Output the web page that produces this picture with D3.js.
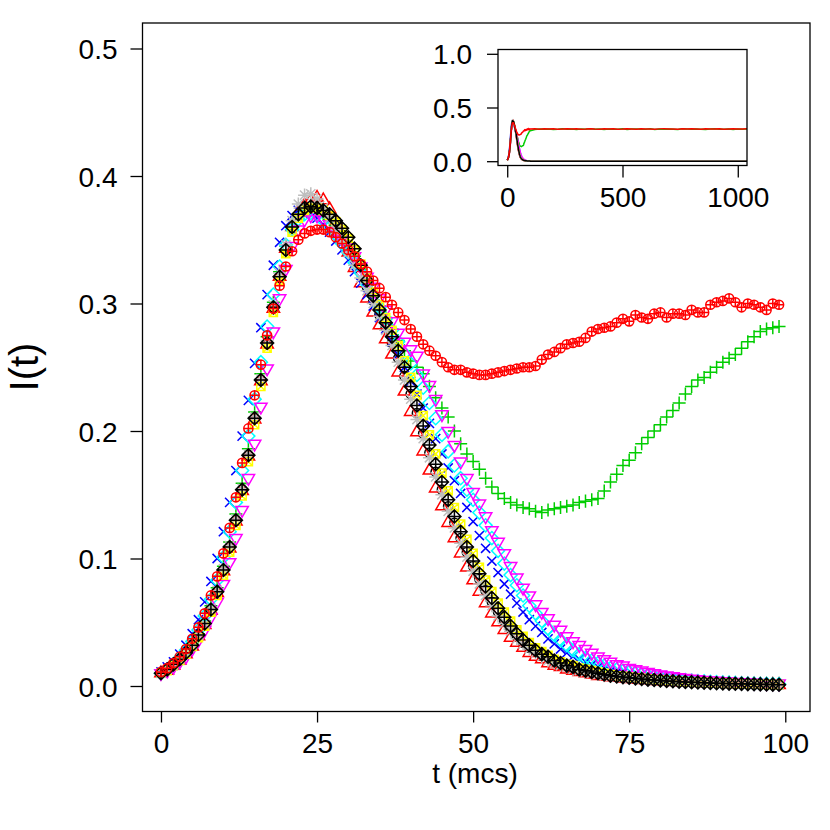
<!DOCTYPE html>
<html>
<head>
<meta charset="utf-8">
<script src="https://cdn.jsdelivr.net/npm/d3@7"></script>
<style>
  body { margin: 0; background: #fff; }
  svg { display: block; }
  text { font-family: "Liberation Sans", Arial, Helvetica, sans-serif; fill: #000; }
</style>
</head>
<body>
<div id="chart"></div>
<script>
(function() {
  // I(t) per series, one value per mcs, t = 0..99
  var blackCircle = [
    .010,.013,.017,.021,.026,.032,.040,.049,.060,.074,
    .091,.109,.130,.154,.181,.210,.240,.269,.297,.321,
    .342,.359,.369,.374,.375,.374,.371,.367,.361,.354,
    .346,.336,.324,.313,.302,.291,.281,.269,.257,.243,
    .229,.214,.198,.183,.168,.154,.141,.128,.116,.105,
    .094,.084,.075,.066,.058,.051,.045,.039,.034,.030,
    .027,.024,.022,.019,.017,.016,.014,.013,.012,.010,
    .0095,.0088,.008,.0074,.0068,.0063,.0058,.0054,.005,.0046,
    .0043,.004,.0037,.0034,.0031,.0029,.0027,.0025,.0023,.0021,
    .002,.0019,.0017,.0016,.0015,.0014,.0013,.0012,.0011,.001];
  var redTriangle = [
    .010,.012,.016,.020,.025,.031,.039,.048,.059,.073,
    .090,.108,.129,.153,.180,.209,.239,.268,.296,.321,
    .343,.360,.371,.377,.381,.383,.381,.374,.364,.352,
    .340,.328,.316,.304,.293,.283,.272,.260,.246,.231,
    .215,.199,.184,.169,.155,.141,.128,.116,.104,.093,
    .083,.074,.065,.057,.050,.044,.038,.034,.030,.026,
    .023,.021,.018,.016,.015,.013,.012,.011,.010,.009,
    .008,.0075,.007,.0065,.006,.0055,.005,.0047,.0044,.004,
    .0037,.0034,.0032,.003,.0028,.0026,.0024,.0022,.002,.0019,
    .0018,.0017,.0015,.0014,.0013,.0012,.0011,.001,.001,.0009];
  var greenPlus = [
    .010,.013,.016,.021,.026,.033,.041,.051,.063,.077,
    .094,.113,.135,.159,.186,.215,.245,.274,.301,.325,
    .345,.360,.369,.373,.374,.373,.370,.366,.361,.354,
    .346,.337,.327,.317,.307,.298,.289,.280,.271,.263,
    .255,.250,.245,.235,.226,.218,.211,.200,.190,.182,
    .176,.170,.163,.156,.151,.147,.144,.142,.140,.139,
    .137,.136,.138,.139,.140,.141,.142,.144,.145,.146,
    .147,.153,.160,.166,.173,.177,.183,.190,.195,.200,
    .205,.211,.216,.222,.229,.235,.240,.242,.246,.250,
    .254,.257,.260,.265,.270,.274,.278,.280,.281,.282];
  var blueCross = [
    .011,.015,.019,.025,.032,.041,.052,.066,.082,.100,
    .121,.144,.169,.196,.224,.253,.281,.307,.330,.348,
    .361,.369,.373,.373,.371,.367,.362,.356,.349,.342,
    .334,.325,.316,.307,.298,.289,.280,.270,.260,.250,
    .239,.229,.218,.206,.194,.182,.171,.161,.151,.140,
    .129,.118,.108,.098,.089,.080,.072,.065,.058,.052,
    .047,.042,.037,.033,.029,.026,.023,.021,.019,.017,
    .015,.014,.012,.011,.010,.009,.0085,.008,.0072,.0065,
    .006,.0055,.005,.0046,.0042,.0038,.0035,.0032,.003,.0027,
    .0025,.0023,.0021,.002,.0018,.0017,.0016,.0015,.0014,.0013];
  var cyanDiamond = [
    .010,.013,.017,.022,.028,.035,.044,.055,.068,.083,
    .101,.121,.144,.169,.196,.225,.254,.282,.307,.329,
    .346,.358,.366,.370,.371,.369,.365,.360,.354,.347,
    .340,.332,.324,.315,.306,.297,.288,.279,.270,.261,
    .253,.244,.234,.222,.210,.197,.184,.173,.163,.154,
    .146,.136,.126,.116,.106,.096,.087,.079,.071,.063,
    .057,.051,.045,.040,.036,.032,.028,.025,.022,.020,
    .018,.016,.014,.013,.012,.011,.010,.009,.0082,.0075,
    .0068,.0062,.0056,.0051,.0047,.0043,.0039,.0036,.0033,.003,
    .0028,.0026,.0024,.0022,.002,.0019,.0018,.0017,.0016,.0015];
  var magentaTriangle = [
    .010,.012,.015,.019,.023,.029,.036,.044,.054,.066,
    .080,.097,.116,.138,.163,.190,.219,.249,.278,.304,
    .327,.345,.358,.366,.369,.369,.366,.362,.357,.351,
    .344,.337,.329,.321,.313,.304,.295,.286,.277,.270,
    .264,.259,.245,.236,.225,.213,.200,.189,.176,.163,
    .152,.143,.133,.122,.113,.104,.094,.085,.077,.071,
    .064,.058,.053,.048,.044,.039,.035,.032,.029,.026,
    .023,.021,.019,.017,.016,.014,.013,.012,.011,.010,
    .009,.0082,.0075,.0068,.0062,.0057,.0052,.0047,.0043,.004,
    .0037,.0034,.0031,.0029,.0027,.0025,.0023,.0021,.002,.0019];
  var yellowSquare = [
    .010,.012,.016,.020,.025,.031,.038,.047,.058,.071,
    .087,.105,.126,.149,.176,.205,.235,.265,.293,.318,
    .339,.356,.367,.373,.375,.375,.373,.369,.364,.358,
    .351,.342,.331,.320,.309,.299,.289,.279,.267,.255,
    .242,.228,.212,.197,.182,.167,.153,.140,.127,.115,
    .104,.093,.083,.074,.065,.058,.051,.044,.039,.034,
    .030,.027,.024,.021,.019,.017,.016,.014,.013,.012,
    .011,.010,.009,.008,.0075,.007,.0065,.006,.0055,.005,
    .0047,.0044,.004,.0037,.0034,.0032,.003,.0028,.0026,.0024,
    .0022,.002,.0019,.0018,.0017,.0015,.0014,.0013,.0012,.0011];
  var grayStar = [
    .010,.013,.016,.021,.026,.032,.040,.049,.061,.075,
    .092,.110,.131,.155,.182,.211,.241,.271,.299,.324,
    .346,.365,.378,.385,.386,.382,.375,.367,.358,.349,
    .340,.330,.320,.310,.300,.290,.279,.267,.254,.240,
    .225,.209,.194,.179,.164,.150,.137,.124,.112,.101,
    .090,.080,.071,.063,.055,.049,.043,.037,.033,.029,
    .026,.023,.020,.018,.016,.015,.013,.012,.011,.010,
    .009,.008,.0075,.007,.0065,.006,.0055,.005,.0047,.0044,
    .004,.0037,.0034,.0032,.003,.0028,.0026,.0024,.0022,.002,
    .0019,.0018,.0017,.0015,.0014,.0013,.0012,.0011,.001,.001];
  var blackDiamond = [
    .010,.013,.017,.021,.026,.032,.040,.049,.060,.074,
    .091,.109,.130,.154,.181,.210,.240,.269,.297,.321,
    .342,.360,.370,.375,.376,.375,.373,.370,.365,.359,
    .352,.343,.330,.318,.306,.295,.285,.274,.263,.250,
    .235,.220,.204,.189,.174,.160,.146,.133,.121,.109,
    .098,.088,.078,.069,.061,.054,.047,.041,.036,.032,
    .028,.025,.023,.020,.018,.016,.015,.013,.012,.011,
    .010,.009,.008,.0075,.007,.0065,.006,.0055,.005,.0047,
    .0044,.004,.0037,.0034,.0032,.003,.0028,.0026,.0024,.0022,
    .002,.0019,.0018,.0017,.0015,.0014,.0013,.0012,.0011,.001];
  var redCirclePlus = [
    .011,.014,.018,.023,.029,.037,.046,.057,.071,.086,
    .104,.124,.148,.175,.202,.228,.252,.275,.296,.314,
    .329,.341,.350,.355,.357,.358,.358,.356,.352,.347,
    .342,.337,.331,.325,.318,.312,.305,.299,.293,.287,
    .280,.274,.268,.263,.259,.254,.250,.248,.248,.246,
    .245,.244,.244,.245,.246,.247,.248,.249,.250,.250,
    .251,.256,.260,.262,.265,.268,.269,.270,.273,.278,
    .280,.281,.282,.285,.288,.286,.291,.289,.288,.292,
    .293,.289,.292,.292,.291,.295,.293,.293,.299,.301,
    .302,.304,.301,.297,.300,.299,.297,.295,.300,.299];

  // long run for the inset, sampled every 20 mcs from t = 100
  var tailSteps = [100,120,140,160,180,200,220,240,260,280,300,320,340,360,380,400,
    420,440,460,480,500,520,540,560,580,600,620,640,660,680,700,720,740,760,780,800,
    820,840,860,880,900,920,940,960,980,1000,1020,1040];
  var greenTail = [.284,.296,.299,.297,.300,.296,.298,.301,.297,.299,.296,.300,.298,.302,.297,.299,
    .295,.300,.298,.297,.301,.296,.299,.300,.297,.298,.302,.296,.299,.297,.300,.298,
    .296,.301,.299,.297,.300,.298,.295,.299,.301,.297,.298,.300,.296,.299,.298,.300];
  var redTail = [.300,.302,.298,.301,.299,.303,.297,.300,.302,.299,.301,.298,.300,.303,.299,.297,
    .301,.300,.302,.298,.299,.301,.300,.297,.302,.299,.300,.298,.301,.303,.299,.300,
    .298,.301,.299,.302,.300,.297,.301,.299,.300,.302,.298,.300,.301,.299,.300,.301];
  var extinctSteps = [100, 1040];
  var extinctTail = [0, 0];

  var xTicks = [0, 25, 50, 75, 100];
  var yTicks = [0, 0.1, 0.2, 0.3, 0.4, 0.5];
  var insetXTicks = [0, 500, 1000];
  var insetYTicks = [0, 0.5, 1];

  var series = [
    { values: blackCircle,     tail: null,       color: "#000000", pch: 1 },
    { values: redTriangle,     tail: null,       color: "#FF0000", pch: 2 },
    { values: greenPlus,       tail: greenTail,  color: "#00CD00", pch: 3 },
    { values: blueCross,       tail: null,       color: "#0000FF", pch: 4 },
    { values: cyanDiamond,     tail: null,       color: "#00FFFF", pch: 5 },
    { values: magentaTriangle, tail: null,       color: "#FF00FF", pch: 6 },
    { values: yellowSquare,    tail: null,       color: "#FFFF00", pch: 7 },
    { values: grayStar,        tail: null,       color: "#BEBEBE", pch: 8 },
    { values: blackDiamond,    tail: null,       color: "#000000", pch: 9 },
    { values: redCirclePlus,   tail: redTail,    color: "#FF0000", pch: 10 }
  ];

  var box = { left: 142.5, right: 810, top: 23, bottom: 711.5 };
  var inBox = { left: 498, right: 747, top: 49.5, bottom: 165.5 };

  var svg = d3.select("#chart")
    .append("svg")
    .attr("width", 830)
    .attr("height", 830);

  var x = d3.scaleLinear().domain([-2.96, 103.96]).range([box.left, box.right]);
  var y = d3.scaleLinear().domain([-0.02, 0.52]).range([box.bottom, box.top]);

  // R style point symbols
  var RAD = 4.6;
  function symbol(pch) {
    var r = RAD, s2 = Math.SQRT2 * r;
    var circle = "M" + r + ",0A" + r + "," + r + " 0 1,1 " + (-r) + ",0A" + r + "," + r + " 0 1,1 " + r + ",0Z";
    var t0 = r * 1.5551, tx = t0 * 0.866, ty = t0 * 0.5;
    var q = r * 0.8862;
    switch (pch) {
      case 1: return circle;
      case 2: return "M0," + (-t0) + "L" + tx + "," + ty + "L" + (-tx) + "," + ty + "Z";
      case 3: return "M" + (-s2) + ",0H" + s2 + "M0," + (-s2) + "V" + s2;
      case 4: return "M" + (-r) + "," + (-r) + "L" + r + "," + r + "M" + (-r) + "," + r + "L" + r + "," + (-r);
      case 5: return "M0," + (-s2) + "L" + s2 + ",0L0," + s2 + "L" + (-s2) + ",0Z";
      case 6: return "M0," + t0 + "L" + tx + "," + (-ty) + "L" + (-tx) + "," + (-ty) + "Z";
      case 7: return "M" + (-q) + "," + (-q) + "H" + q + "V" + q + "H" + (-q) + "Z" +
                     "M" + (-q) + "," + (-q) + "L" + q + "," + q + "M" + (-q) + "," + q + "L" + q + "," + (-q);
      case 8: return "M" + (-r) + "," + (-r) + "L" + r + "," + r + "M" + (-r) + "," + r + "L" + r + "," + (-r) +
                     "M" + (-s2) + ",0H" + s2 + "M0," + (-s2) + "V" + s2;
      case 9: return "M0," + (-s2) + "L" + s2 + ",0L0," + s2 + "L" + (-s2) + ",0Z" +
                     "M" + (-s2) + ",0H" + s2 + "M0," + (-s2) + "V" + s2;
      case 10: return circle + "M" + (-r) + ",0H" + r + "M0," + (-r) + "V" + r;
    }
  }

  // points
  var pts = svg.append("g");
  series.forEach(function(s) {
    pts.append("g")
      .selectAll("path")
      .data(s.values)
      .enter().append("path")
      .attr("transform", function(d, i) { return "translate(" + x(i) + "," + y(d) + ")"; })
      .attr("d", symbol(s.pch))
      .attr("fill", "none")
      .attr("stroke", s.color)
      .attr("stroke-width", 1.5);
  });

  // main box
  svg.append("rect")
    .attr("x", box.left).attr("y", box.top)
    .attr("width", box.right - box.left).attr("height", box.bottom - box.top)
    .attr("fill", "none").attr("stroke", "#000").attr("stroke-width", 1.3);

  var xAxis = svg.append("g")
    .attr("transform", "translate(0," + box.bottom + ")")
    .call(d3.axisBottom(x).tickValues(xTicks).tickSize(11).tickPadding(11).tickFormat(d3.format("d")));
  var yAxis = svg.append("g")
    .attr("transform", "translate(" + box.left + ",0)")
    .call(d3.axisLeft(y).tickValues(yTicks).tickSize(12).tickPadding(13).tickFormat(d3.format(".1f")));

  [xAxis, yAxis].forEach(function(a) {
    a.select(".domain").remove();
    a.selectAll("line").attr("stroke", "#000").attr("stroke-width", 1.3);
    a.selectAll("text").attr("font-size", 28).attr("font-family", "Liberation Sans, Arial, sans-serif");
  });
  yAxis.selectAll("text").attr("dy", "0.36em");

  svg.append("text")
    .attr("x", 475).attr("y", 783)
    .attr("text-anchor", "middle")
    .attr("font-size", 28)
    .text("t (mcs)");

  svg.append("text")
    .attr("transform", "translate(38,367) rotate(-90)")
    .attr("text-anchor", "middle")
    .attr("font-size", 40)
    .text("I(t)");

  // inset
  var xi = d3.scaleLinear().domain([-40, 1040]).range([inBox.left, inBox.right]);
  var yi = d3.scaleLinear().domain([-0.04, 1.04]).range([inBox.bottom, inBox.top]);

  svg.append("rect")
    .attr("x", inBox.left).attr("y", inBox.top)
    .attr("width", inBox.right - inBox.left).attr("height", inBox.bottom - inBox.top)
    .attr("fill", "#fff");

  svg.append("clipPath").attr("id", "inset-clip")
    .append("rect")
    .attr("x", inBox.left).attr("y", inBox.top)
    .attr("width", inBox.right - inBox.left).attr("height", inBox.bottom - inBox.top);

  var line = d3.line()
    .x(function(d) { return xi(d[0]); })
    .y(function(d) { return yi(d[1]); });

  var lines = svg.append("g").attr("clip-path", "url(#inset-clip)");
  series.forEach(function(s) {
    var pts = s.values.map(function(v, i) { return [i, v]; });
    var tT = s.tail ? tailSteps : extinctSteps;
    var tV = s.tail ? s.tail : extinctTail;
    tT.forEach(function(t, j) { pts.push([t, tV[j]]); });
    lines.append("path")
      .datum(pts)
      .attr("d", line)
      .attr("fill", "none")
      .attr("stroke", s.color)
      .attr("stroke-width", 1.5);
  });

  svg.append("rect")
    .attr("x", inBox.left).attr("y", inBox.top)
    .attr("width", inBox.right - inBox.left).attr("height", inBox.bottom - inBox.top)
    .attr("fill", "none").attr("stroke", "#000").attr("stroke-width", 1.3);

  var xiAxis = svg.append("g")
    .attr("transform", "translate(0," + inBox.bottom + ")")
    .call(d3.axisBottom(xi).tickValues(insetXTicks).tickSize(12).tickPadding(10).tickFormat(d3.format("d")));
  var yiAxis = svg.append("g")
    .attr("transform", "translate(" + inBox.left + ",0)")
    .call(d3.axisLeft(yi).tickValues(insetYTicks).tickSize(11).tickPadding(15).tickFormat(d3.format(".1f")));

  [xiAxis, yiAxis].forEach(function(a) {
    a.select(".domain").remove();
    a.selectAll("line").attr("stroke", "#000").attr("stroke-width", 1.3);
    a.selectAll("text").attr("font-size", 28).attr("font-family", "Liberation Sans, Arial, sans-serif");
  });
  yiAxis.selectAll("text").attr("dy", "0.36em");
})();
</script>
</body>
</html>
